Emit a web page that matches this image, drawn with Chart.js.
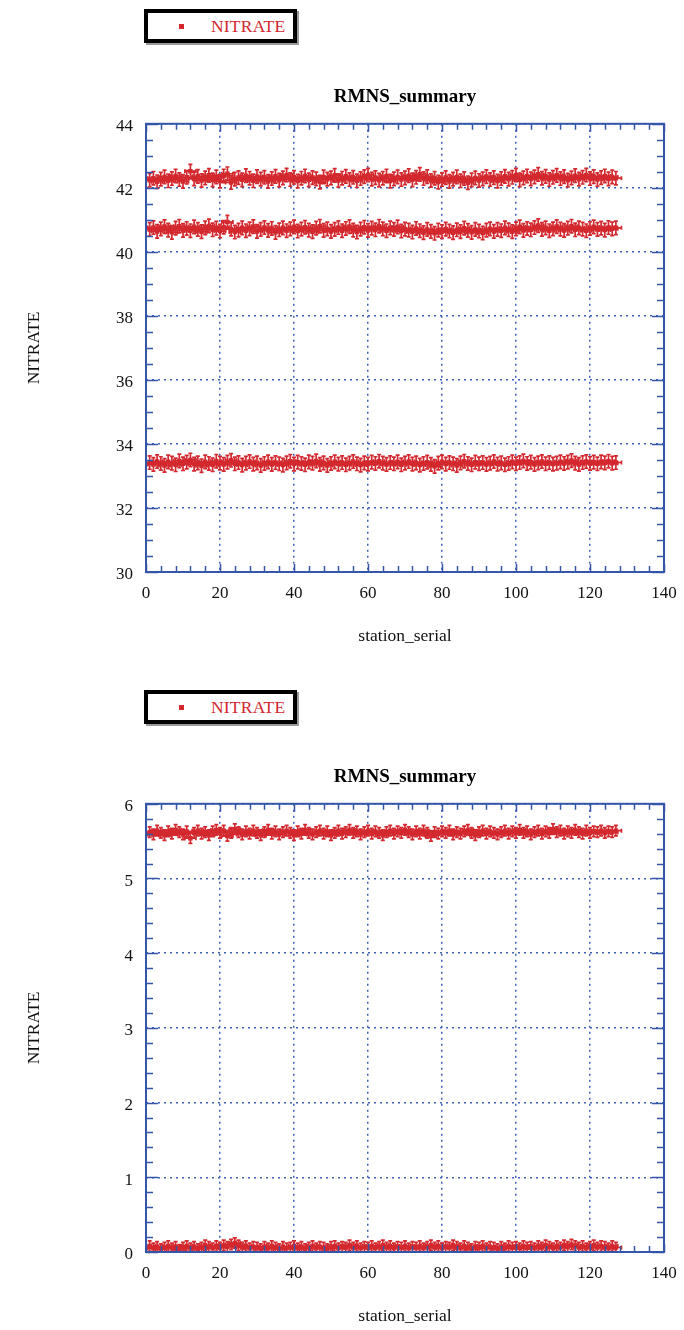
<!DOCTYPE html>
<html>
<head>
<meta charset="utf-8">
<title>RMNS_summary</title>
<script src="https://cdn.jsdelivr.net/npm/chart.js@4/dist/chart.umd.min.js"></script>
<style>
  html, body { margin: 0; padding: 0; background: #fff; }
  body { width: 684px; height: 1330px; position: relative; overflow: hidden; font-family: "Liberation Serif", serif; }
  .panel { position: absolute; left: 0; width: 684px; height: 650px; }
  .legend {
    position: absolute; left: 144px; width: 145px; height: 26px;
    border: 4px solid #000; box-shadow: 2px 2px 0 #9a9a9a; background: #fff;
  }
  .legend .mark { position: absolute; left: 31px; top: 11px; width: 5px; height: 5px; background: #d2282e; }
  .legend .label { position: absolute; left: 63px; top: 2px; font-size: 17.5px; line-height: 22px; letter-spacing: 0.2px; color: #d2282e; }
</style>
</head>
<body>
<div class="legend" style="top:9px"><span class="mark"></span><span class="label">NITRATE</span></div>
<div class="panel" style="top:0"><canvas id="chartHigh" width="684" height="650"></canvas></div>
<div class="legend" style="top:690px"><span class="mark"></span><span class="label">NITRATE</span></div>
<div class="panel" style="top:680px"><canvas id="chartLow" width="684" height="650"></canvas></div>
<script>
// RMNS nitrate readings per station (station_serial = index + 1)
const nitrateHigh = [
  42.24, 42.30, 42.19, 42.27, 42.34, 42.22, 42.29, 42.37, 42.26, 42.20,
  42.33, 42.52, 42.28, 42.36, 42.23, 42.31, 42.39, 42.25, 42.34, 42.21,
  42.37, 42.44, 42.17, 42.27, 42.32, 42.25, 42.38, 42.30, 42.22, 42.35,
  42.27, 42.33, 42.20, 42.29, 42.36, 42.24, 42.31, 42.40, 42.26, 42.33,
  42.21, 42.30, 42.37, 42.25, 42.32, 42.28, 42.18, 42.34, 42.27, 42.31,
  42.39, 42.23, 42.30, 42.36, 42.26, 42.33, 42.22, 42.29, 42.35, 42.40,
  42.27, 42.32, 42.24, 42.30, 42.37, 42.21, 42.28, 42.34, 42.26, 42.31,
  42.38, 42.25, 42.33, 42.42, 42.29, 42.35, 42.23, 42.30, 42.18, 42.26,
  42.32, 42.20, 42.27, 42.34, 42.22, 42.29, 42.16, 42.25, 42.31, 42.23,
  42.28, 42.35, 42.26, 42.32, 42.21, 42.29, 42.36, 42.27, 42.33, 42.40,
  42.25, 42.31, 42.37, 42.28, 42.34, 42.42, 42.30, 42.36, 42.26, 42.33,
  42.39, 42.29, 42.35, 42.24, 42.31, 42.38, 42.27, 42.33, 42.40, 42.29,
  42.35, 42.26, 42.32, 42.37, 42.28, 42.34, 42.30
];
const nitrateMid = [
  40.70, 40.76, 40.64, 40.72, 40.79, 40.68, 40.61, 40.74, 40.80, 40.67,
  40.73, 40.66, 40.78, 40.70, 40.63, 40.75, 40.81, 40.69, 40.74, 40.65,
  40.77, 40.93, 40.71, 40.62, 40.68, 40.75, 40.66, 40.72, 40.79, 40.64,
  40.70, 40.76, 40.67, 40.73, 40.61, 40.69, 40.75, 40.66, 40.72, 40.78,
  40.65, 40.71, 40.77, 40.68, 40.63, 40.74, 40.80, 40.67, 40.72, 40.64,
  40.70, 40.76, 40.66, 40.73, 40.79, 40.68, 40.62, 40.71, 40.77, 40.67,
  40.74, 40.69, 40.80, 40.72, 40.66, 40.75, 40.70, 40.78, 40.65, 40.71,
  40.68, 40.62, 40.73, 40.66, 40.60, 40.70, 40.64, 40.58, 40.68, 40.63,
  40.71, 40.65, 40.60, 40.69, 40.63, 40.74, 40.67, 40.61, 40.70, 40.65,
  40.59, 40.68, 40.72, 40.64, 40.70, 40.66, 40.75, 40.69, 40.63, 40.72,
  40.78, 40.67, 40.73, 40.69, 40.76, 40.82, 40.70, 40.75, 40.66, 40.72,
  40.79, 40.71, 40.67, 40.74, 40.80, 40.69, 40.75, 40.71, 40.66, 40.73,
  40.78, 40.70, 40.74, 40.68, 40.76, 40.72, 40.75
];
const nitrateLow = [
  33.42, 33.36, 33.45, 33.39, 33.33, 33.44, 33.40, 33.35, 33.47, 33.38,
  33.43, 33.50, 33.37, 33.41, 33.32, 33.44, 33.39, 33.35, 33.46, 33.40,
  33.36, 33.43, 33.49, 33.38, 33.42, 33.34, 33.40, 33.45, 33.37, 33.41,
  33.33, 33.39, 33.44, 33.36, 33.42, 33.38, 33.34, 33.41, 33.46, 33.37,
  33.43, 33.39, 33.35, 33.44, 33.40, 33.47, 33.36, 33.41, 33.33, 33.39,
  33.44, 33.37, 33.42, 33.35, 33.40, 33.45, 33.38, 33.34, 33.41, 33.37,
  33.43, 33.39, 33.46, 33.40, 33.36, 33.42, 33.38, 33.44, 33.35, 33.40,
  33.45, 33.37, 33.41, 33.34, 33.39, 33.43, 33.36, 33.30, 33.40, 33.44,
  33.37, 33.42, 33.38, 33.33, 33.41, 33.46, 33.39, 33.35, 33.43, 33.38,
  33.42, 33.36, 33.40, 33.45, 33.37, 33.41, 33.35, 33.39, 33.44, 33.38,
  33.42, 33.47, 33.39, 33.43, 33.36, 33.41, 33.45, 33.38, 33.42, 33.37,
  33.40, 33.44, 33.39, 33.43, 33.48, 33.40, 33.36, 33.42, 33.45, 33.39,
  33.43, 33.38, 33.44, 33.41, 33.46, 33.40, 33.42
];
const nitrateStd = [
  5.62, 5.59, 5.64, 5.61, 5.58, 5.63, 5.60, 5.65, 5.62, 5.59,
  5.63, 5.54, 5.61, 5.64, 5.60, 5.62, 5.58, 5.63, 5.65, 5.61,
  5.64, 5.57, 5.61, 5.66, 5.62, 5.59, 5.63, 5.60, 5.64, 5.61,
  5.58, 5.62, 5.65, 5.60, 5.63, 5.59, 5.62, 5.64, 5.61, 5.58,
  5.63, 5.60, 5.65, 5.61, 5.59, 5.62, 5.64, 5.60, 5.63, 5.58,
  5.61, 5.64, 5.60, 5.62, 5.65, 5.61, 5.63, 5.59, 5.62, 5.64,
  5.60, 5.63, 5.61, 5.58, 5.62, 5.64, 5.60, 5.63, 5.61, 5.65,
  5.62, 5.59, 5.63, 5.60, 5.64, 5.61, 5.57, 5.62, 5.60, 5.63,
  5.61, 5.64, 5.59, 5.62, 5.60, 5.63, 5.65, 5.61, 5.58, 5.62,
  5.64, 5.60, 5.63, 5.61, 5.59, 5.62, 5.64, 5.60, 5.63, 5.61,
  5.65, 5.61, 5.63, 5.59, 5.62, 5.64, 5.60, 5.63, 5.61, 5.66,
  5.62, 5.64, 5.60, 5.63, 5.61, 5.65, 5.62, 5.60, 5.64, 5.61,
  5.63, 5.62, 5.64, 5.61, 5.63, 5.62, 5.64
];
const nitrateBlank = [
  0.08, 0.05, 0.07, 0.04, 0.06, 0.08, 0.05, 0.07, 0.03, 0.06,
  0.08, 0.05, 0.07, 0.04, 0.06, 0.09, 0.07, 0.05, 0.08, 0.06,
  0.09, 0.07, 0.10, 0.12, 0.09, 0.06, 0.08, 0.05, 0.07, 0.06,
  0.04, 0.07, 0.05, 0.08, 0.06, 0.04, 0.07, 0.05, 0.06, 0.08,
  0.05, 0.07, 0.04, 0.06, 0.08, 0.05, 0.07, 0.06, 0.04, 0.07,
  0.08, 0.05, 0.07, 0.06, 0.09, 0.06, 0.08, 0.05, 0.07, 0.06,
  0.08, 0.05, 0.07, 0.09, 0.06, 0.08, 0.05, 0.07, 0.06, 0.08,
  0.05, 0.07, 0.06, 0.08, 0.05, 0.07, 0.09, 0.06, 0.08, 0.05,
  0.07, 0.06, 0.09, 0.07, 0.05, 0.08, 0.06, 0.04, 0.07, 0.06,
  0.08, 0.05, 0.07, 0.06, 0.04, 0.07, 0.05, 0.08, 0.06, 0.07,
  0.05, 0.08, 0.06, 0.07, 0.05, 0.08, 0.06, 0.09, 0.07, 0.05,
  0.08, 0.06, 0.09, 0.07, 0.10, 0.08, 0.06, 0.08, 0.05, 0.07,
  0.09, 0.06, 0.08, 0.07, 0.05, 0.08, 0.06
];
// error bar half-widths
const stationErr = 1.5;
const highErr = 0.21;
const lowErr = 0.07;

const RED = '#d2282e';
const AXIS_BLUE = '#3556a8';
const GRID_BLUE = '#3f62b4';
const FONT = 'Liberation Serif';

const toPoints = vals => vals.map((v, i) => ({ x: i + 1, y: v }));

// crosses with small caps around every point
const errorBars = {
  id: 'errorBars',
  beforeDatasetsDraw(chart) {
    const { ctx, chartArea: a, scales: { x, y } } = chart;
    ctx.save();
    ctx.beginPath();
    ctx.rect(a.left, a.top, a.right - a.left, a.bottom - a.top);
    ctx.clip();
    ctx.strokeStyle = RED;
    ctx.lineWidth = 1.7;
    chart.data.datasets.forEach(ds => {
      ds.data.forEach(p => {
        const px = x.getPixelForValue(p.x), py = y.getPixelForValue(p.y);
        const x0 = x.getPixelForValue(p.x - ds.errX), x1 = x.getPixelForValue(p.x + ds.errX);
        const y0 = y.getPixelForValue(p.y + ds.errY), y1 = y.getPixelForValue(p.y - ds.errY);
        ctx.beginPath();
        ctx.moveTo(x0, py); ctx.lineTo(x1, py);
        ctx.moveTo(px, y0); ctx.lineTo(px, y1);
        ctx.moveTo(px - 2, y0); ctx.lineTo(px + 2, y0);
        ctx.moveTo(px - 2, y1); ctx.lineTo(px + 2, y1);
        ctx.moveTo(x0, py - 2); ctx.lineTo(x0, py + 2);
        ctx.moveTo(x1, py - 2); ctx.lineTo(x1, py + 2);
        ctx.stroke();
      });
    });
    ctx.restore();
  }
};

// solid frame with inward major/minor ticks on all four sides
const frameTicks = {
  id: 'frameTicks',
  afterDraw(chart, args, opts) {
    const { ctx, chartArea: a, scales: { x, y } } = chart;
    ctx.save();
    ctx.strokeStyle = AXIS_BLUE;
    ctx.lineWidth = 1.5;
    ctx.beginPath();
    const nX = Math.round((x.max - x.min) / opts.xMinor);
    for (let k = 0; k <= nX; k++) {
      const v = x.min + k * opts.xMinor;
      const px = Math.round(x.getPixelForValue(v)) + 0.5;
      const len = k % opts.xPer === 0 ? 8 : 6;
      ctx.moveTo(px, a.bottom); ctx.lineTo(px, a.bottom - len);
      ctx.moveTo(px, a.top); ctx.lineTo(px, a.top + len);
    }
    const nY = Math.round((y.max - y.min) / opts.yMinor);
    for (let k = 0; k <= nY; k++) {
      const v = y.min + k * opts.yMinor;
      const py = Math.round(y.getPixelForValue(v)) + 0.5;
      const len = k % opts.yPer === 0 ? 12 : 7;
      ctx.moveTo(a.left, py); ctx.lineTo(a.left + len, py);
      ctx.moveTo(a.right, py); ctx.lineTo(a.right - len, py);
    }
    ctx.stroke();
    ctx.lineWidth = 2;
    ctx.strokeRect(a.left, a.top, a.right - a.left, a.bottom - a.top);
    ctx.restore();
  }
};

function makeChart(id, series, err, yMin, yMax, yStep, ticksOpts) {
  const ctx = document.getElementById(id).getContext('2d');
  return new Chart(ctx, {
    type: 'scatter',
    data: {
      datasets: series.map(vals => ({
        label: 'NITRATE',
        data: toPoints(vals),
        errX: stationErr,
        errY: err,
        backgroundColor: RED,
        borderWidth: 0,
        pointStyle: 'rect',
        pointRadius: 3.2,
        showLine: false
      }))
    },
    options: {
      responsive: false,
      animation: false,
      devicePixelRatio: 1,
      layout: { padding: { top: 86, right: 20, left: 0, bottom: 0 } },
      plugins: {
        legend: { display: false },
        tooltip: { enabled: false },
        title: {
          display: true,
          text: 'RMNS_summary',
          fullSize: false,
          color: '#000',
          font: { family: FONT, size: 19, weight: 'bold' },
          padding: { top: 0, bottom: 15 }
        },
        frameTicks: ticksOpts
      },
      scales: {
        x: {
          type: 'linear',
          min: 0, max: 140,
          afterFit(scale) {
            scale.height = 78;
            scale.paddingLeft = 0;
            scale.paddingRight = 0;
          },
          ticks: { stepSize: 20, padding: 11, maxRotation: 0, color: '#111', font: { family: FONT, size: 17 } },
          grid: { color: GRID_BLUE, lineWidth: 1.5, drawTicks: false },
          border: { display: false, dash: [2, 4] },
          title: { display: true, text: 'station_serial', color: '#111', font: { family: FONT, size: 17.5 }, padding: { top: 0, bottom: 3 } }
        },
        y: {
          type: 'linear',
          min: yMin, max: yMax,
          afterFit(scale) {
            scale.width = 146;
            scale.paddingTop = 0;
            scale.paddingBottom = 0;
          },
          ticks: { stepSize: yStep, padding: 13, labelOffset: 3, color: '#111', font: { family: FONT, size: 17 } },
          grid: { color: GRID_BLUE, lineWidth: 1.5, drawTicks: false },
          border: { display: false, dash: [2, 4] },
          title: { display: true, text: 'NITRATE', color: '#111', font: { family: FONT, size: 17.5 }, padding: { top: 24, bottom: 0 } }
        }
      }
    },
    plugins: [errorBars, frameTicks]
  });
}

makeChart('chartHigh', [nitrateHigh, nitrateMid, nitrateLow], highErr, 30, 44, 2,
  { xMinor: 4, xPer: 5, yMinor: 0.5, yPer: 4 });
makeChart('chartLow', [nitrateStd, nitrateBlank], lowErr, 0, 6, 1,
  { xMinor: 4, xPer: 5, yMinor: 0.2, yPer: 5 });
</script>
</body>
</html>
